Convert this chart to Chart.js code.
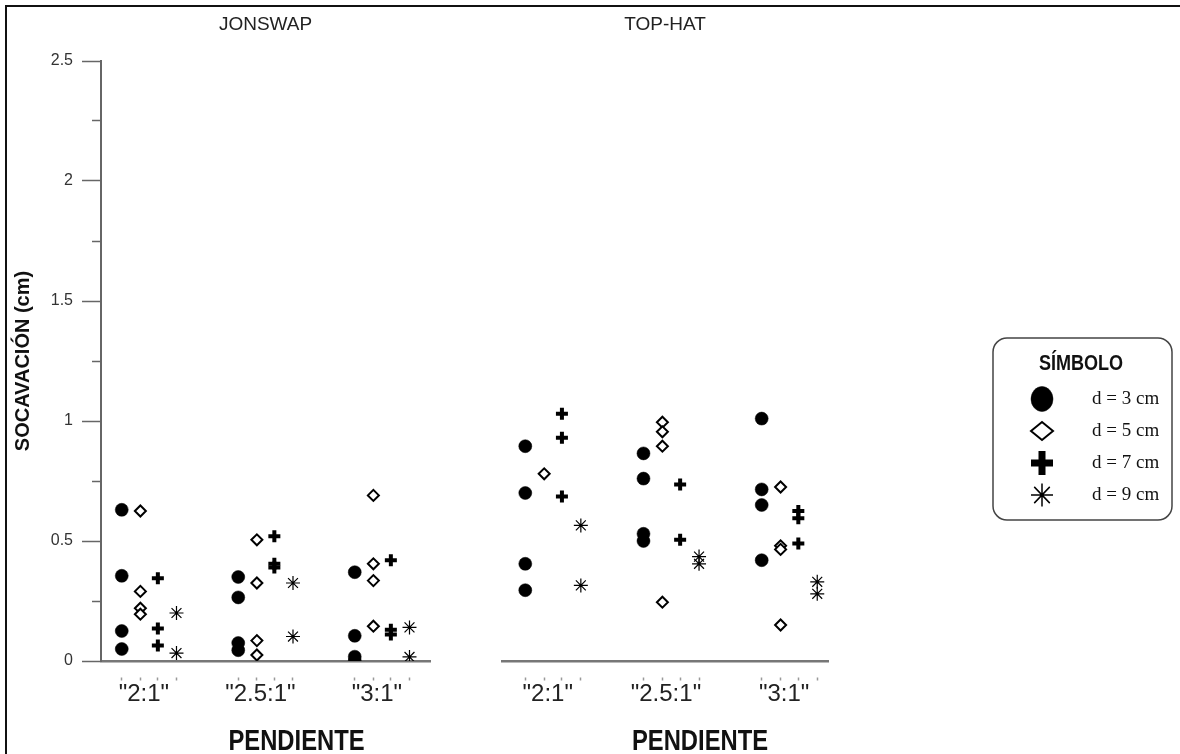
<!DOCTYPE html>
<html><head><meta charset="utf-8">
<script src="https://cdn.jsdelivr.net/npm/chart.js@4.4.1/dist/chart.umd.min.js"></script>
<style>
html,body{margin:0;padding:0;background:#fff;overflow:hidden;}
#wrap{position:relative;width:1180px;height:754px;overflow:hidden;}
#frame{position:absolute;left:5px;top:5px;width:1200px;height:800px;border-top:2px solid #111;border-left:2px solid #111;}
#cA{position:absolute;left:0;top:0;width:440px;height:754px;}
#cB{position:absolute;left:440px;top:0;width:740px;height:754px;}
</style></head><body>
<div id="wrap"><div id="frame"></div>
<div id="cA"><canvas id="chartA"></canvas></div>
<div id="cB"><canvas id="chartB"></canvas></div>
</div>
<script>
// ---------- data ----------
const categories = ['"2:1"', '"2.5:1"', '"3:1"'];
const seriesNames = ['d = 3 cm', 'd = 5 cm', 'd = 7 cm', 'd = 9 cm'];
const panelTitles = ['JONSWAP', 'TOP-HAT'];
const xAxisTitle = 'PENDIENTE';
const yAxisTitle = 'SOCAVACIÓN (cm)';
const legendTitle = 'SÍMBOLO';
const yMajorTicks = [0, 0.5, 1, 1.5, 2, 2.5];
const yMinorTicks = [0.25, 0.75, 1.25, 1.75, 2.25];

// JONSWAP (values per category: "2:1", "2.5:1", "3:1")
const jonswap_d3 = [[0.63, 0.355, 0.125, 0.05], [0.35, 0.265, 0.075, 0.045], [0.37, 0.105, 0.018, 0.0]];
const jonswap_d5 = [[0.625, 0.29, 0.22, 0.195], [0.505, 0.325, 0.085, 0.025], [0.69, 0.405, 0.335, 0.145]];
const jonswap_d7 = [[0.345, 0.135, 0.065], [0.52, 0.405, 0.39], [0.42, 0.13, 0.11]];
const jonswap_d9 = [[0.2, 0.033], [0.325, 0.102], [0.14, 0.017]];

// TOP-HAT
const tophat_d3 = [[0.895, 0.70, 0.405, 0.295], [0.865, 0.76, 0.53, 0.5], [1.01, 0.715, 0.65, 0.42]];
const tophat_d5 = [[0.78], [0.995, 0.955, 0.895, 0.245], [0.725, 0.48, 0.465, 0.15]];
const tophat_d7 = [[1.03, 0.93, 0.685], [0.735, 0.505], [0.625, 0.595, 0.49]];
const tophat_d9 = [[0.565, 0.315], [0.435, 0.405], [0.33, 0.28]];

// ---------- layout / style ----------
const SERIES_OFFSET = [0, 0.16, 0.31, 0.47];
const LABEL_OFFSET = 0.19;
const SANS = "'Liberation Sans', Arial, sans-serif";
const SERIF = "'Liberation Serif', 'Times New Roman', serif";
const NARROW_SCALE = 0.82;
Chart.defaults.font.family = SANS;

const markerStyles = [
  {pointStyle: 'circle', pointRadius: 6.5, pointBackgroundColor: '#000', pointBorderColor: '#000', pointBorderWidth: 0.5, backgroundColor: '#000', borderColor: '#000', borderWidth: 0.5},
  {pointStyle: 'rectRot', pointRadius: 5.5, pointBackgroundColor: '#fff', pointBorderColor: '#000', pointBorderWidth: 2, backgroundColor: '#fff', borderColor: '#000', borderWidth: 2},
  {pointStyle: 'cross', pointRadius: 6, pointBackgroundColor: '#000', pointBorderColor: '#000', pointBorderWidth: 4, backgroundColor: '#000', borderColor: '#000', borderWidth: 4},
  {pointStyle: 'star', pointRadius: 7, pointBackgroundColor: '#000', pointBorderColor: '#000', pointBorderWidth: 1.2, backgroundColor: '#000', borderColor: '#000', borderWidth: 1.2}
];
const legendSymbols = [
  {w: 22, r: 12.5, bw: 0.5},
  {w: 22, r: 9, bw: 2},
  {w: 22, r: 12, bw: 7},
  {w: 22, r: 11.5, bw: 1.5}
];

function buildDatasets(panel) {
  return panel.map((vals, s) => Object.assign({
    label: seriesNames[s],
    data: vals.flatMap((arr, i) => arr.map(v => ({x: i + 1 + SERIES_OFFSET[s], y: v})))
  }, markerStyles[s]));
}

function narrowText(ctx, text, x, y, font, color) {
  ctx.save();
  ctx.font = font;
  ctx.fillStyle = color;
  ctx.textAlign = 'center';
  ctx.textBaseline = 'middle';
  ctx.translate(x, y);
  ctx.scale(NARROW_SCALE, 1);
  ctx.fillText(text, 0, 0);
  ctx.restore();
}

const captionPlugin = {
  id: 'caption',
  afterDraw(chart, args, o) {
    const {ctx, chartArea} = chart;
    narrowText(ctx, o.text, (chartArea.left + chartArea.right) / 2 + o.dx, o.y, o.font, o.color);
  }
};

const symbolLegend = {
  id: 'symbolLegend',
  afterDraw(chart, args, o) {
    const ctx = chart.ctx;
    const left = chart.chartArea.right + o.gap;
    ctx.save();
    ctx.beginPath();
    Chart.helpers.addRoundedRectPath(ctx, {x: left, y: o.top, w: o.width, h: o.height,
      radius: {topLeft: o.radius, topRight: o.radius, bottomLeft: o.radius, bottomRight: o.radius}});
    ctx.lineWidth = 1.5;
    ctx.strokeStyle = '#444';
    ctx.stroke();
    narrowText(ctx, o.title, left + o.titleDx, o.top + o.titleDy, 'bold 22px ' + SANS, '#111');
    chart.data.datasets.forEach((ds, i) => {
      const sy = o.top + o.firstRow + i * o.rowStep;
      const sx = left + o.symbolDx;
      const sym = legendSymbols[i];
      ctx.fillStyle = ds.pointBackgroundColor;
      ctx.strokeStyle = ds.pointBorderColor;
      ctx.lineWidth = sym.bw;
      Chart.helpers.drawPointLegend(ctx, {pointStyle: ds.pointStyle, radius: sym.r, rotation: 0, borderWidth: sym.bw}, sx, sy, sym.w);
      ctx.fillStyle = '#111';
      ctx.font = '19px ' + SERIF;
      ctx.textAlign = 'left';
      ctx.textBaseline = 'middle';
      ctx.fillText(ds.label, left + o.textDx, sy);
    });
    ctx.restore();
  }
};

function makeConfig(panelIdx, panel, xmin, xmax, padL, padR, captionDx, withY) {
  const scales = {
    x: {
      type: 'linear', position: 'bottom', weight: 1, min: xmin, max: xmax,
      afterBuildTicks: s => { s.ticks = categories.map((c, i) => ({value: i + 1 + LABEL_OFFSET})); },
      afterFit: s => { s.height = 93; },
      grid: {display: false, drawTicks: false},
      border: {display: false},
      ticks: {callback: (v, i) => categories[i], autoSkip: false, maxRotation: 0, padding: 19,
        color: '#222', font: {family: SANS, size: 24}}
    },
    x2: {
      type: 'linear', position: 'bottom', weight: 0, min: xmin, max: xmax,
      afterBuildTicks: s => {
        const t = [];
        categories.forEach((c, i) => SERIES_OFFSET.forEach(off => t.push({value: i + 1 + off})));
        s.ticks = t;
      },
      afterFit: s => { s.height = 0; },
      ticks: {display: false},
      grid: {display: true, drawOnChartArea: false, drawTicks: true, tickLength: 20,
        tickColor: '#999', tickWidth: 1.5, tickBorderDash: [0, 15, 3, 10]},
      border: {display: true, color: '#777', width: 2.5}
    }
  };
  if (withY) {
    scales.y = {
      type: 'linear', position: 'left', weight: 1, min: 0, max: 2.5,
      afterBuildTicks: s => { s.ticks = yMajorTicks.map(v => ({value: v})); },
      afterFit: s => { s.width = 101; },
      ticks: {callback: v => String(v), padding: 9, color: '#333', font: {size: 16}},
      grid: {drawOnChartArea: false, drawTicks: true, tickLength: 19, tickColor: '#666', tickWidth: 1.5},
      border: {display: true, color: '#666', width: 2},
      title: {display: true, text: yAxisTitle, color: '#111', font: {size: 20, weight: 'bold'}, padding: {top: 11, bottom: 0}}
    };
    scales.y2 = {
      type: 'linear', position: 'left', weight: 0, min: 0, max: 2.5,
      afterBuildTicks: s => { s.ticks = yMinorTicks.map(v => ({value: v})); },
      afterFit: s => { s.width = 0; },
      ticks: {callback: v => String(v), padding: 10, color: '#333', font: {size: 16}},
      grid: {drawOnChartArea: false, drawTicks: true, tickLength: 9, tickColor: '#666', tickWidth: 1.5},
      border: {display: false}
    };
  } else {
    scales.y = {type: 'linear', position: 'left', min: 0, max: 2.5, display: false};
  }
  const plugins = [captionPlugin];
  const pluginOpts = {
    legend: {display: false},
    tooltip: {enabled: false},
    title: {display: true, text: panelTitles[panelIdx], fullSize: false, color: '#222',
      font: {family: SANS, size: 19, weight: 'normal'}, padding: {top: 13.6, bottom: 24.6}},
    caption: {text: xAxisTitle, dx: captionDx, y: 742, color: '#111', font: 'bold 29px ' + SANS}
  };
  if (!withY) {
    plugins.push(symbolLegend);
    pluginOpts.symbolLegend = {title: legendTitle, gap: 165, top: 338, width: 179, height: 182, radius: 14,
      titleDx: 88, titleDy: 26, symbolDx: 49, textDx: 99, firstRow: 61, rowStep: 32};
  }
  return {
    type: 'scatter',
    data: {datasets: buildDatasets(panel)},
    options: {
      responsive: true, maintainAspectRatio: false, animation: false, events: [],
      layout: {padding: {left: padL, top: 0, right: padR, bottom: 0}},
      plugins: pluginOpts,
      scales
    },
    plugins
  };
}

new Chart(document.getElementById('chartA'),
  makeConfig(0, [jonswap_d3, jonswap_d5, jonswap_d7, jonswap_d9], 0.822, 3.646, 0, 10, 31, true));
new Chart(document.getElementById('chartB'),
  makeConfig(1, [tophat_d3, tophat_d5, tophat_d7, tophat_d9], 0.803, 3.561, 62, 352, 35, false));
</script>
</body></html>
